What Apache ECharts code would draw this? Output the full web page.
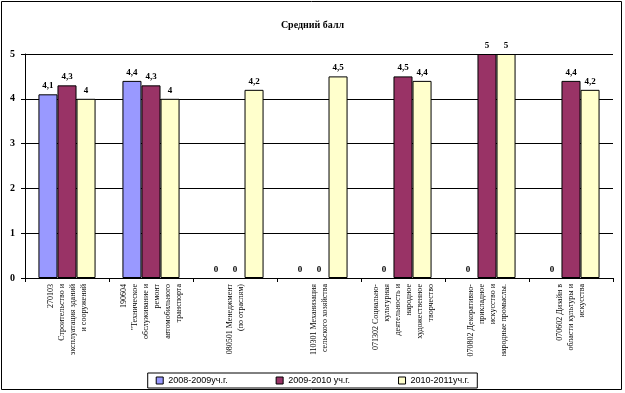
<!DOCTYPE html>
<html><head><meta charset="utf-8">
<script src="https://cdn.jsdelivr.net/npm/echarts@6/dist/echarts.min.js"></script>
<style>html,body{margin:0;padding:0;background:#fff}#c{width:625px;height:393px}</style>
</head><body><div id="c"></div>
<script>
const categories = [
  "270103\nСтроительство и\nэксплуатация зданий\nи сооружений",
  "190604\n\"Техническое\nобслуживание и\nремонт\nавтомобильного\nтранспорта",
  "080501 Менеджмент\n(по отраслям)",
  "110301 Механизация\nсельского хозяйства",
  "071302 Социально-\nкультурная\nдеятельность и\nнародное\nхудожественное\nтворчество",
  "070802 Декоративно-\nприкладное\nискусство и\nнародные промыслы.",
  "070602 Дизайн в\nобласти культуры и\nискусства"
];
const seriesNames = ["2008-2009уч.г.", "2009-2010 уч.г.", "2010-2011уч.г."];
const s2008 = [4.1, 4.4, 0, 0, 0, 0, 0];
const s2009 = [4.3, 4.3, 0, 0, 4.5, 5, 4.4];
const s2010 = [4, 4, 4.2, 4.5, 4.4, 5, 4.2];
const colors = ["#9999FF", "#993366", "#FFFFCC"];
const yTicks = [0, 1, 2, 3, 4, 5];

const chart = echarts.init(document.getElementById('c'));
const lbl = {
  show: true, position: 'top', distance: 4,
  fontFamily: 'Liberation Serif', fontSize: 9, fontWeight: 'bold', color: '#000',
  formatter: p => String(p.value).replace('.', ',')
};
function mk(i, data) {
  return {
    name: seriesNames[i], type: 'bar',
    data: data.map(v => v === 0 ? { value: v, itemStyle: { borderWidth: 0 } } : v),
    barGap: '0%', barCategoryGap: '32%',
    itemStyle: { color: colors[i], borderColor: '#000', borderWidth: 1 },
    label: lbl
  };
}
chart.setOption({
  animation: false,
  title: {
    text: 'Средний балл', left: 'center', top: 15,
    textStyle: { fontFamily: 'Liberation Serif', fontSize: 10, fontWeight: 'bold', color: '#000' }
  },
  legend: {
    bottom: 5, left: 'center', itemWidth: 7, itemHeight: 7, itemGap: 48,
    icon: 'rect', borderRadius: 0,
    borderColor: '#000', borderWidth: 1, padding: [3, 8, 3, 8],
    textStyle: { fontFamily: 'Liberation Sans', fontSize: 9, color: '#000' },
    data: seriesNames.map((n, i) => ({ name: n, itemStyle: { borderColor: '#000', borderWidth: 1 } }))
  },
  grid: { left: 25, right: 12, top: 54, bottom: 115 },
  xAxis: {
    type: 'category', data: categories,
    axisLine: { lineStyle: { color: '#000' } },
    axisTick: { show: true, alignWithLabel: false, length: 4, lineStyle: { color: '#000' } },
    axisLabel: {
      rotate: 90, interval: 0, margin: 6, align: 'right', verticalAlign: 'middle',
      fontFamily: 'Liberation Serif', fontSize: 8, lineHeight: 11, color: '#000'
    }
  },
  yAxis: {
    type: 'value', min: 0, max: 5, interval: 1,
    axisLine: { show: true, lineStyle: { color: '#000' } },
    axisTick: { show: true, length: 4, lineStyle: { color: '#000' } },
    splitLine: { lineStyle: { color: '#000', width: 1 } },
    axisLabel: { margin: 10, fontFamily: 'Liberation Serif', fontSize: 10, fontWeight: 'bold', color: '#000',
      formatter: v => yTicks.includes(v) ? String(v) : '' }
  },
  graphic: [{ type: 'rect', shape: { x: 1.5, y: 1.5, width: 620, height: 388 }, style: { fill: 'none', stroke: '#000', lineWidth: 1 }, silent: true }],
  series: [mk(0, s2008), mk(1, s2009), mk(2, s2010)]
});
</script></body></html>
